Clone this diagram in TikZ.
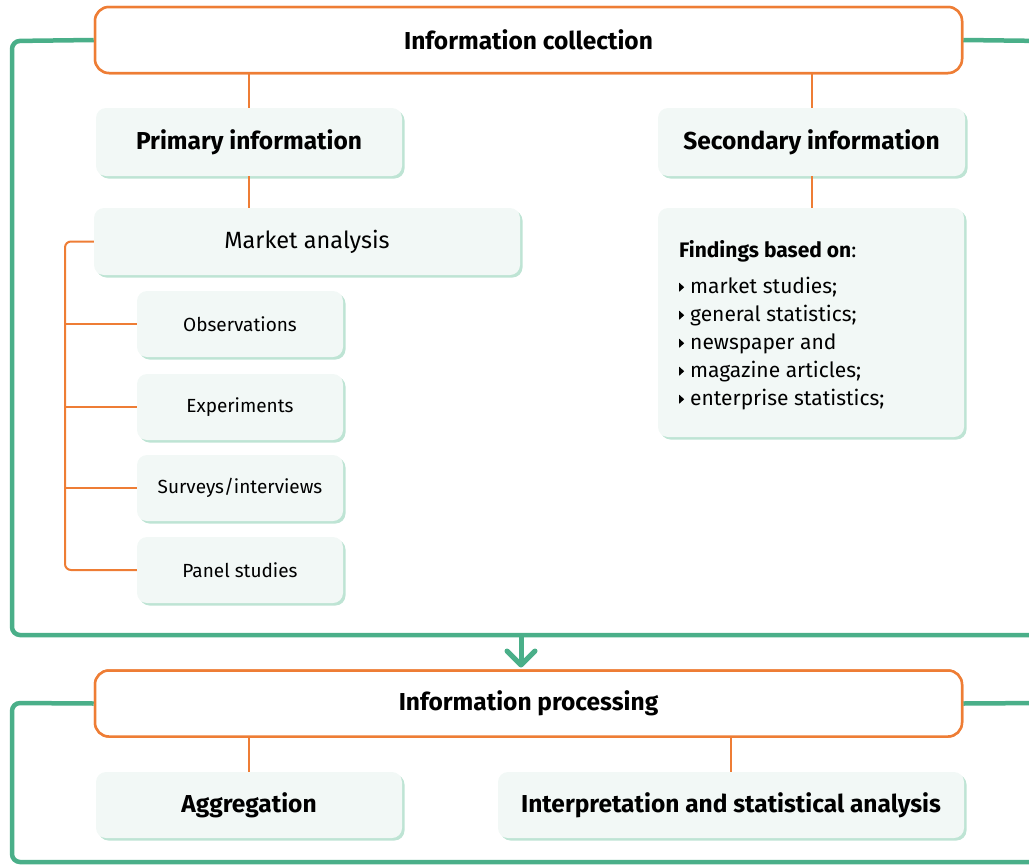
\documentclass[tikz,border=0pt]{standalone}
\usepackage{fontspec}
\setmainfont{Fira Sans}
\definecolor{orng}{HTML}{EE7D35}
\definecolor{grn}{HTML}{4AAF89}
\definecolor{lite}{HTML}{F2F8F6}
\definecolor{shad}{HTML}{BEE4D4}
\newcommand\bul{\tikz[baseline=0pt,x=1pt,y=1pt]\fill[black] (0,1.5) -- (5,6) -- (0,10.5) -- cycle;\hspace{6pt}}
\begin{document}
\begin{tikzpicture}[x=1pt,y=-1pt,
 frame/.style={draw=grn, line width=4.5pt, rounded corners=8pt},
 headbox/.style={draw=orng, line width=2.5pt, fill=white, rounded corners=14pt, minimum width=867pt, minimum height=66pt, inner sep=0pt, font=\bfseries\fontsize{24.5}{28}\selectfont},
 subbox/.style={fill=lite, rounded corners=10pt, inner sep=0pt, preaction={fill=shad, transform canvas={xshift=2.5pt,yshift=-2.5pt}}},
 bigbold/.style={subbox, font=\bfseries\fontsize{24.5}{28}\selectfont},
 smallbox/.style={subbox, minimum width=206pt, minimum height=66pt, font=\fontsize{19}{22}\selectfont},
 link/.style={draw=orng, line width=2pt, rounded corners=6pt},
]
\useasboundingbox (0,0) rectangle (1029,865);
\clip (0,0) rectangle (1029,865);

% head boxes and green frames
\node[headbox] (icoll) at (528.5,40) {Information collection};
\node[headbox] (iproc) at (528.5,703.5) {Information processing};
\draw[frame] (icoll.west) -- (12,41) -- (12,635) -- (1045,635);
\draw[frame] (icoll.east) -- (1045,41);
\draw[frame] (iproc.west) -- (12,703) -- (12,862) -- (1045,862);
\draw[frame] (iproc.east) -- (1045,703);
\node[headbox] at (icoll) {Information collection};
\node[headbox] at (iproc) {Information processing};

% boxes
\node[bigbold, minimum width=306pt, minimum height=68pt] (prim) at (249,142) {Primary information};
\node[bigbold, minimum width=307pt, minimum height=68pt] (sec) at (811.5,142) {Secondary information};
\node[subbox, minimum width=426pt, minimum height=67pt, font=\fontsize{23.5}{28}\selectfont] (mkt) at (307,241.5) {Market analysis};
\node[smallbox] (obs) at (240,324) {Observations};
\node[smallbox] (exp) at (240,407) {Experiments};
\node[smallbox] (surv) at (240,488) {Surveys/interviews};
\node[smallbox] (panel) at (240,570) {Panel studies};
\node[subbox, minimum width=306pt, minimum height=229pt] (find) at (811,322.5) {};
\node[anchor=north west, align=left, inner sep=0pt, font=\fontsize{21}{28}\selectfont] (ftxt) at (679,240)
 {\textbf{Findings based on}:\\[8pt]
  \bul market studies;\\
  \bul general statistics;\\
  \bul newspaper and\\
  \bul magazine articles;\\
  \bul enterprise statistics;};
\node[bigbold, minimum width=306pt, minimum height=66pt] (agg) at (249,805) {Aggregation};
\node[bigbold, minimum width=466pt, minimum height=66pt] (interp) at (731,805) {Interpretation and statistical analysis};

% links
\draw[link] (prim.north) -- (prim.north |- icoll.south);
\draw[link] (sec.north) -- (sec.north |- icoll.south);
\draw[link] (prim.south) -- (prim.south |- mkt.north);
\draw[link] (sec.south) -- (sec.south |- find.north);
\coordinate (sp) at (65,0);
\draw[link] (mkt.west) -| (sp |- panel.west) -- (panel.west);
\draw[link] (obs.west -| sp) -- (obs.west);
\draw[link] (exp.west -| sp) -- (exp.west);
\draw[link] (surv.west -| sp) -- (surv.west);
\draw[link] (agg.north) -- (agg.north |- iproc.south);
\draw[link] (interp.north) -- (interp.north |- iproc.south);

% arrow between stages
\coordinate (fb) at (521,635);
\coordinate (tip) at (521,665);
\draw[grn, line width=5pt] (fb) -- (tip);
\draw[grn, line width=5pt, line cap=round, line join=round] (507,651) -- (tip) -- (535,651);
\end{tikzpicture}
\end{document}
